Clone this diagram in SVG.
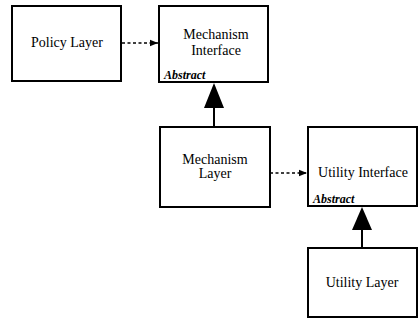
<svg xmlns="http://www.w3.org/2000/svg" width="419" height="328" viewBox="0 0 419 328">
<defs>
<style>
.box{fill:#fff;stroke:#000;stroke-width:2}
.t{font-family:'Liberation Serif','DejaVu Serif','Times New Roman',serif;font-size:14px;text-anchor:middle;fill:#000}
.a{font-family:'Liberation Serif','DejaVu Serif','Times New Roman',serif;font-size:12px;font-weight:bold;font-style:italic;fill:#000}
.dash{stroke:#000;stroke-width:1.5;stroke-dasharray:3,2.5;fill:none}
.solid{stroke:#000;stroke-width:2;fill:none}
</style>
<marker id="ah" viewBox="0 0 10 10" refX="10" refY="5" markerWidth="11" markerHeight="8" markerUnits="userSpaceOnUse" orient="auto">
<path d="M0,1 L10,5 L0,9 Z" fill="#000"/>
</marker>
</defs>
<rect width="419" height="328" fill="#fff"/>
<g id="connectors">
<line class="dash" x1="122" y1="43" x2="158" y2="43" marker-end="url(#ah)"/>
<line class="dash" x1="270" y1="173" x2="307" y2="173" marker-end="url(#ah)"/>
<line class="solid" x1="214" y1="108" x2="214" y2="127"/>
<path d="M214,83 L204,108 L224,108 Z" fill="#000"/>
<line class="solid" x1="362" y1="230" x2="362" y2="248"/>
<path d="M362,207 L352,230 L372,230 Z" fill="#000"/>
</g>
<g id="policy-layer">
<rect class="box" x="12" y="6" width="109" height="75"/>
<text class="t" x="67" y="47">Policy Layer</text>
</g>
<g id="mechanism-interface">
<rect class="box" x="159" y="6" width="109" height="76"/>
<text class="t" x="216" y="39">Mechanism</text>
<text class="t" x="216" y="55">Interface</text>
<text class="a" x="164" y="79">Abstract</text>
</g>
<g id="mechanism-layer">
<rect class="box" x="160" y="127" width="110" height="80"/>
<text class="t" x="215" y="164">Mechanism</text>
<text class="t" x="215" y="178">Layer</text>
</g>
<g id="utility-interface">
<rect class="box" x="308" y="127" width="109" height="79"/>
<text class="t" x="363" y="177">Utility Interface</text>
<text class="a" x="313" y="203">Abstract</text>
</g>
<g id="utility-layer">
<rect class="box" x="308" y="248" width="109" height="69"/>
<text class="t" x="362" y="287">Utility Layer</text>
</g>
</svg>
